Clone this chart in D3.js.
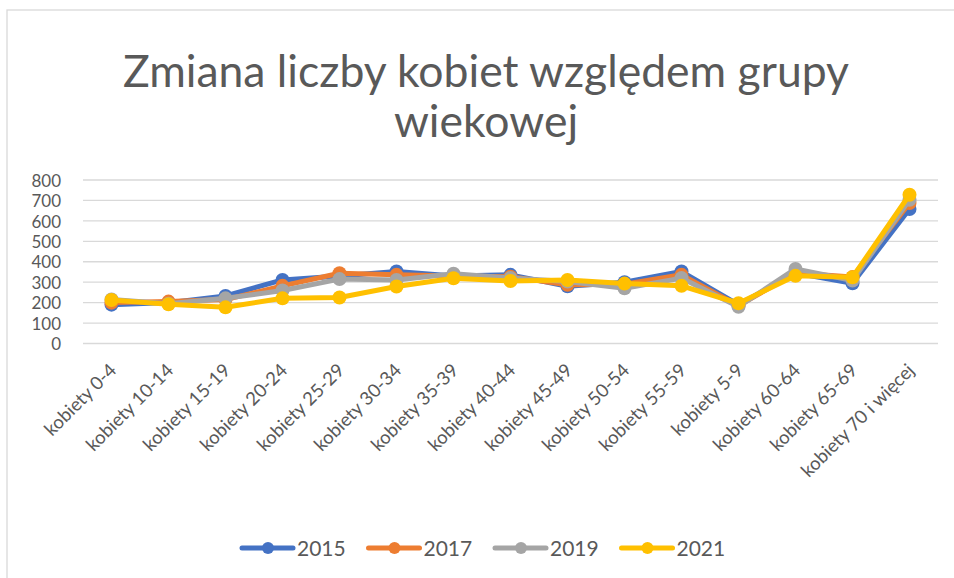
<!DOCTYPE html>
<html>
<head>
<meta charset="utf-8">
<script src="https://cdn.jsdelivr.net/npm/d3@7"></script>
<style>
  body { margin: 0; background: #fff; }
</style>
</head>
<body>
<div id="vis"></div>
<script>
// kategorie i serie
const categories = ["kobiety 0-4", "kobiety 10-14", "kobiety 15-19", "kobiety 20-24", "kobiety 25-29",
  "kobiety 30-34", "kobiety 35-39", "kobiety 40-44", "kobiety 45-49", "kobiety 50-54",
  "kobiety 55-59", "kobiety 5-9", "kobiety 60-64", "kobiety 65-69", "kobiety 70 i więcej"];
const years = ["2015", "2017", "2019", "2021"];
const v2015 = [190, 200, 233, 311, 330, 352, 330, 336, 280, 300, 352, 190, 345, 295, 658];
const v2017 = [200, 205, 215, 282, 344, 336, 330, 327, 287, 290, 336, 185, 345, 325, 687];
const v2019 = [215, 195, 221, 259, 315, 311, 341, 320, 303, 270, 320, 180, 365, 308, 703];
const v2021 = [213, 192, 177, 221, 225, 279, 319, 306, 311, 293, 282, 197, 331, 324, 728];
const yTicks = [0, 100, 200, 300, 400, 500, 600, 700, 800];
const colors = ["#4472C4", "#ED7D31", "#A5A5A5", "#FFC000"];

const series = [v2015, v2017, v2019, v2021].map((vals, i) => ({ name: years[i], values: vals, color: colors[i] }));

const font = "Lato, 'Open Sans', sans-serif";
const W = 954, H = 578;

var svg = d3.select("#vis").append("svg").attr("width", W).attr("height", H);

// ramka wykresu (widoczna tylko z lewej i u gory)
svg.append("rect")
  .attr("x", 7).attr("y", 10).attr("width", 960).attr("height", 600)
  .attr("fill", "none").attr("stroke", "#d9d9d9").attr("stroke-width", 1.3);

const titleLines = ["Zmiana liczby kobiet względem grupy", "wiekowej"];
svg.append("g").selectAll("text").data(titleLines).join("text")
  .attr("x", 486).attr("y", (d, i) => 87 + i * 50)
  .attr("text-anchor", "middle")
  .style("font-family", font).style("font-size", "44.5px")
  .attr("fill", "#595959")
  .text(d => d);

const x = d3.scaleBand().domain(categories).range([83, 938]);
const y = d3.scaleLinear().domain([0, 800]).range([343.5, 180]);

// linie siatki
svg.append("g").selectAll("line").data(yTicks).join("line")
  .attr("x1", 83).attr("x2", 938)
  .attr("y1", d => y(d)).attr("y2", d => y(d))
  .attr("stroke", "#d9d9d9").attr("stroke-width", 1.3);

const yAxis = svg.append("g").attr("transform", "translate(83,0)")
  .call(d3.axisLeft(y).tickValues(yTicks).tickSize(0).tickPadding(22));
yAxis.select(".domain").remove();
yAxis.selectAll("text")
  .style("font-family", font).style("font-size", "17px").attr("fill", "#595959")
  .attr("dy", "0.36em");

const xAxis = svg.append("g").attr("transform", "translate(0," + y(0) + ")")
  .call(d3.axisBottom(x).tickSize(0).tickPadding(0));
xAxis.select(".domain").remove();
xAxis.selectAll("text")
  .style("font-family", font).style("font-size", "18.5px").attr("fill", "#595959")
  .attr("text-anchor", "end")
  .attr("dy", "0")
  .attr("transform", "translate(6,28) rotate(-45)");

const line = d3.line().x((d, i) => x(categories[i]) + x.bandwidth() / 2).y(d => y(d));

series.forEach(s => {
  const g = svg.append("g");
  g.append("path")
    .attr("d", line(s.values))
    .attr("fill", "none").attr("stroke", s.color)
    .attr("stroke-width", 5).attr("stroke-linejoin", "round");
  g.selectAll("circle").data(s.values).join("circle")
    .attr("cx", (d, i) => x(categories[i]) + x.bandwidth() / 2)
    .attr("cy", d => y(d))
    .attr("r", 7)
    .attr("fill", s.color);
});

// legenda
const legend = svg.append("g").attr("transform", "translate(240,548)");
const item = legend.selectAll("g").data(series).join("g")
  .attr("transform", (d, i) => "translate(" + (i * 126.5) + ",0)");
item.append("line")
  .attr("x1", 2).attr("x2", 53).attr("y1", 0).attr("y2", 0)
  .attr("stroke", d => d.color).attr("stroke-width", 5).attr("stroke-linecap", "round");
item.append("circle").attr("cx", 28).attr("cy", 0).attr("r", 6).attr("fill", d => d.color);
item.append("text")
  .attr("x", 57).attr("y", 7.5)
  .style("font-family", font).style("font-size", "21px").attr("fill", "#595959")
  .text(d => d.name);
</script>
</body>
</html>
